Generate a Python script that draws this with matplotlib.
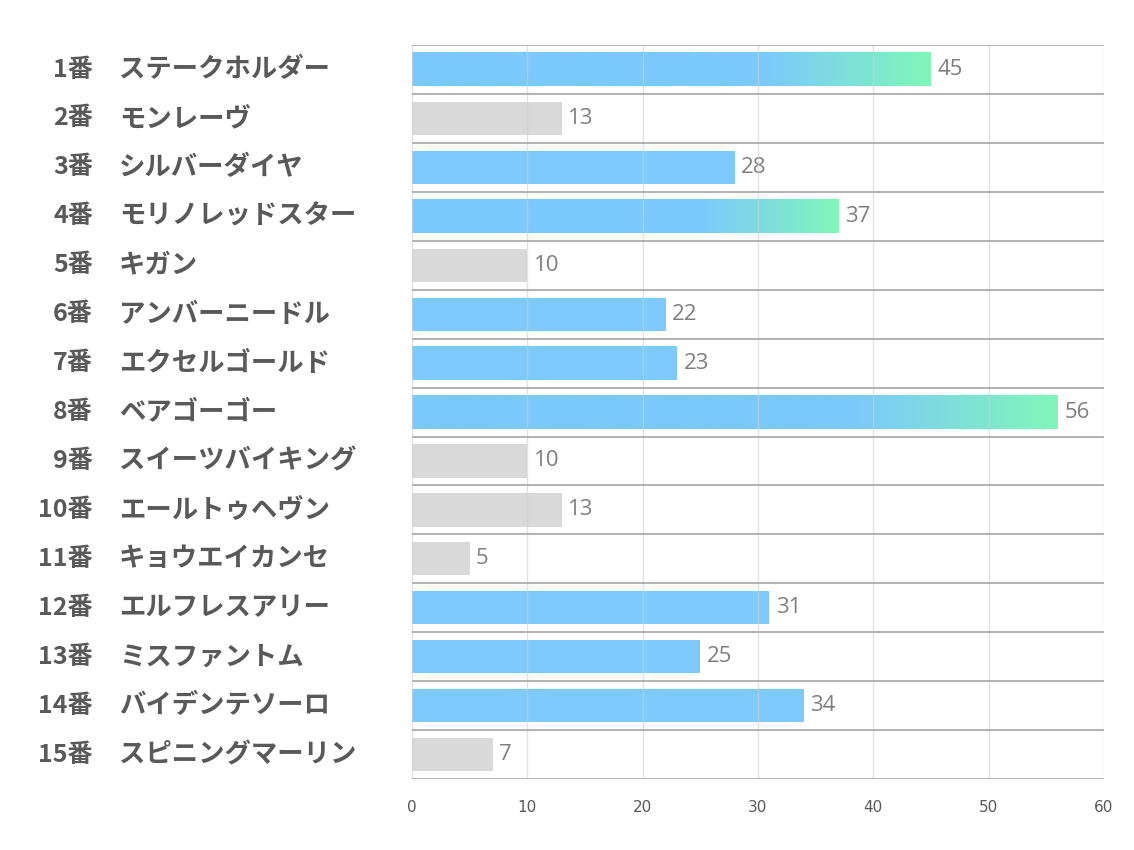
import matplotlib
matplotlib.use('Agg')
import matplotlib.pyplot as plt
import matplotlib.transforms as mtransforms
import numpy as np

numbers = ['1番', '2番', '3番', '4番', '5番', '6番', '7番', '8番',
           '9番', '10番', '11番', '12番', '13番', '14番', '15番']
names = ['ステークホルダー', 'モンレーヴ', 'シルバーダイヤ', 'モリノレッドスター',
         'キガン', 'アンバーニードル', 'エクセルゴールド', 'ベアゴーゴー',
         'スイーツバイキング', 'エールトゥヘヴン', 'キョウエイカンセ',
         'エルフレスアリー', 'ミスファントム', 'バイデンテソーロ', 'スピニングマーリン']
values = [45, 13, 28, 37, 10, 22, 23, 56, 10, 13, 5, 31, 25, 34, 7]
# 'g' = gradient, 'b' = blue, 'n' = grey
kinds = ['g', 'n', 'b', 'g', 'n', 'b', 'b', 'g', 'n', 'n', 'n', 'b', 'b', 'b', 'n']
ticks = [0, 10, 20, 30, 40, 50, 60]

BLUE = np.array([0x7c, 0xc9, 0xfd]) / 255
GREEN = np.array([0x80, 0xf6, 0xb8]) / 255
GREY = '#d9d9d9'
TXT = '#595959'
JP = ['Noto Sans CJK JP', 'DejaVu Sans']

fig = plt.figure(figsize=(11.34, 8.5), dpi=100)
ax = fig.add_axes([0.3633, 0.0835, 0.6102, 0.8635])

h = 0.68
n = len(values)
for i, (v, k) in enumerate(zip(values, kinds)):
    if k == 'n':
        ax.barh(i, v, height=h, color=GREY, zorder=2)
    elif k == 'b':
        ax.barh(i, v, height=h, color=BLUE, alpha=0.98, zorder=2)
    else:
        t = np.linspace(0, 1, 300)
        f = np.clip((t - 0.68) / 0.32, 0, 1)
        img = (BLUE[None, :] * (1 - f[:, None]) + GREEN[None, :] * f[:, None])[None, :, :]
        ax.imshow(img, extent=(0, v, i + h / 2, i - h / 2), aspect='auto',
                  zorder=2, interpolation='bilinear')
    ax.text(v + 0.55, i, str(v), va='center', ha='left', fontsize=16,
            color='#7f7f7f', family='Open Sans')

ax.set_xlim(0, 60)
ax.set_ylim(n - 0.5, -0.5)
ax.set_xticks(ticks)
ax.set_xticklabels([str(t) for t in ticks], fontsize=11, color=TXT)
ax.set_yticks([])
ax.tick_params(axis='x', length=0, pad=15)

for x in ticks:
    ax.axvline(x, color='#d0d0d0', lw=1, zorder=3, alpha=0.6)
for y in np.arange(-0.5, n, 1.0):
    ax.axhline(y, color='#a6a6a6', lw=1.2, zorder=3)

for s in ax.spines.values():
    s.set_visible(False)

tr = mtransforms.blended_transform_factory(fig.transFigure, ax.transData)
for i in range(n):
    fig.text(0.082, i, numbers[i], transform=tr, ha='right', va='center',
             fontsize=18, fontweight='bold', color=TXT, family=JP)
    fig.text(0.105, i, names[i], transform=tr, ha='left', va='center',
             fontsize=19, fontweight='bold', color=TXT, family=JP)

fig.savefig('out.png', dpi=100)
